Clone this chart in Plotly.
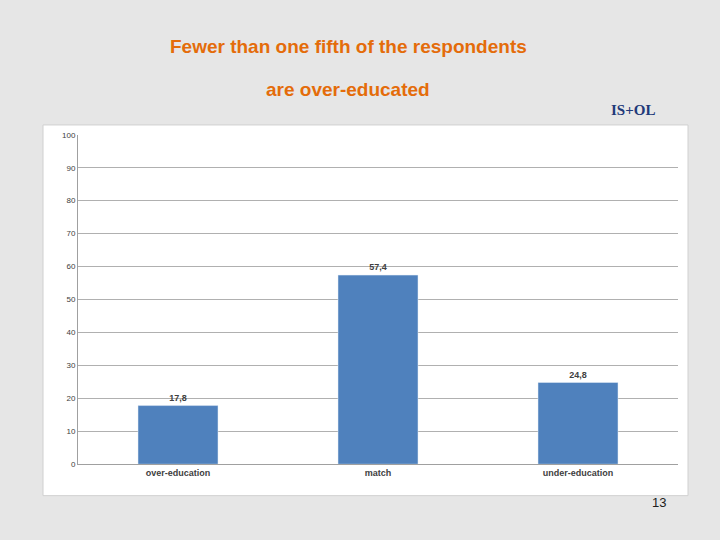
import plotly.graph_objects as go

categories = ["over-education", "match", "under-education"]
values = [17.8, 57.4, 24.8]
labels = ["<b>17,8</b>", "<b>57,4</b>", "<b>24,8</b>"]
yticks = list(range(0, 101, 10))

fig = go.Figure(go.Bar(x=categories, y=values, text=labels, textposition="outside",
                       marker_color="#4f81bd", width=0.4, cliponaxis=False,
                       textfont=dict(size=9, color="#404040", family="Liberation Sans")))
W, H = 720, 540
fig.update_layout(
    width=W, height=H, margin=dict(l=0, r=0, t=0, b=0),
    paper_bgcolor="#e6e6e6", plot_bgcolor="white", showlegend=False,
    xaxis=dict(domain=[78/W, 678/W], showline=True, linecolor="#a0a0a0",
               tickvals=categories, ticktext=["<b>%s</b>" % c for c in categories],
               tickfont=dict(size=9, color="#404040", family="Liberation Sans"), ticks=""),
    yaxis=dict(domain=[(H-468)/H, (H-133)/H], range=[0, 100], tickvals=yticks,
               showgrid=True, gridcolor="#b0b0b0", zeroline=False, showline=True,
               linecolor="#a0a0a0", tickfont=dict(size=8, color="#404040", family="Liberation Sans")),
    shapes=[dict(type="rect", xref="paper", yref="paper", x0=43/W, x1=688/W,
                 y0=(H-500)/H, y1=(H-123)/H, fillcolor="white",
                 line=dict(color="#d0d0d0", width=1), layer="below")],
    annotations=[
        dict(text="<b>Fewer than one fifth of the respondents</b>", xref="paper", yref="paper",
             x=348/W, y=(H-43)/H, showarrow=False, yanchor="middle",
             font=dict(size=19, color="#e46c0a", family="Liberation Sans")),
        dict(text="<b>are over-educated</b>", xref="paper", yref="paper",
             x=348/W, y=(H-87)/H, showarrow=False, yanchor="middle",
             font=dict(size=19, color="#e46c0a", family="Liberation Sans")),
        dict(text="13", xref="paper", yref="paper", x=668/W, y=(H-507)/H,
             showarrow=False, yanchor="middle",
             font=dict(size=13, color="#202020", family="Liberation Sans")),
        dict(text="<b>IS+OL</b>", xref="paper", yref="paper", x=657/W, y=(H-108)/H,
             showarrow=False, yanchor="middle",
             font=dict(size=15, color="#1f3a7a", family="Liberation Serif")),
    ],
)
fig.write_html("out.html", config={"displayModeBar": False},
               post_script="document.body.style.margin='0';")
